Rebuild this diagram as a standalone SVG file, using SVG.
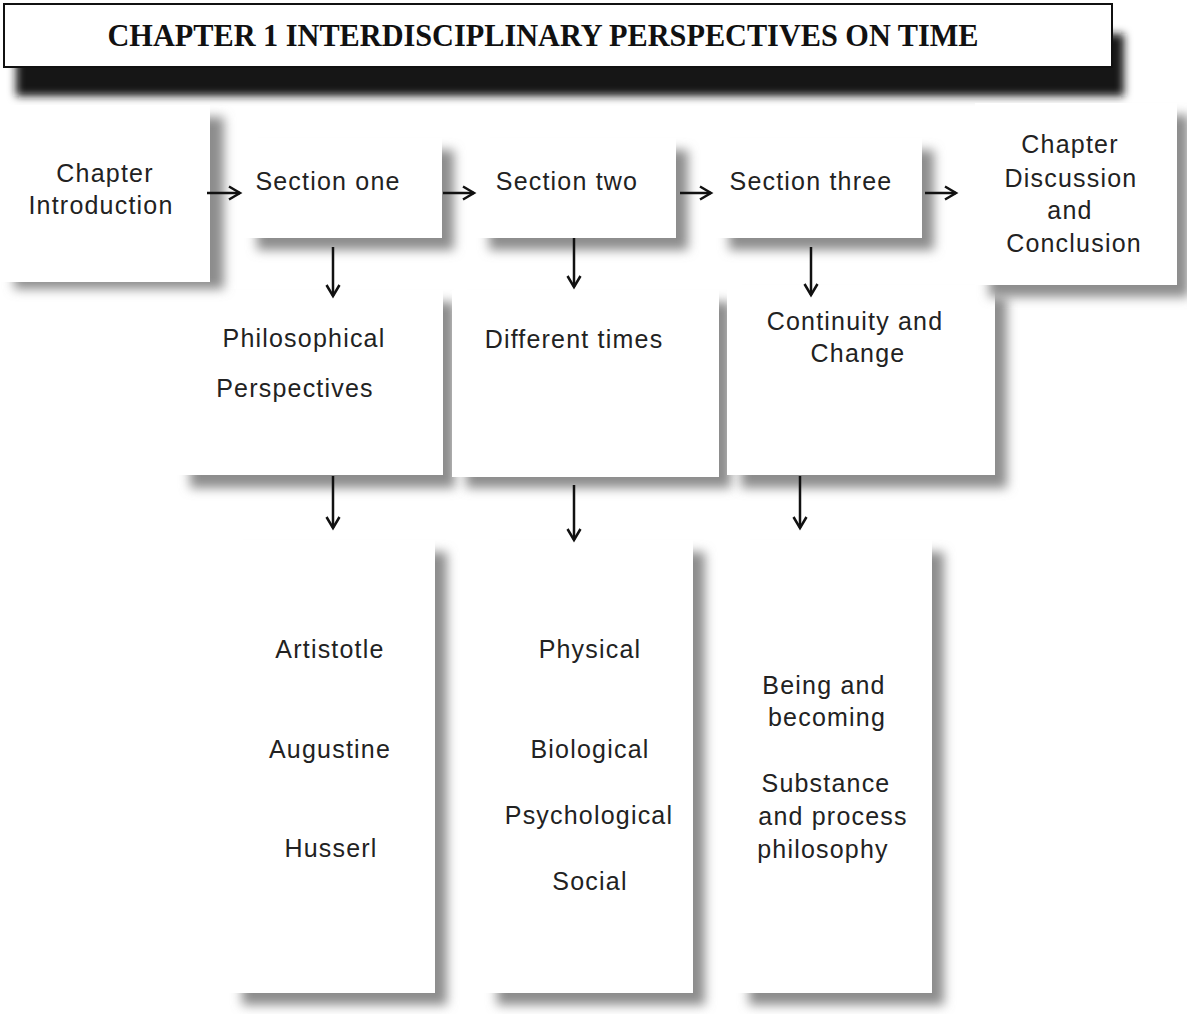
<svg xmlns="http://www.w3.org/2000/svg" width="1187" height="1014" viewBox="0 0 1187 1014">
  <style>
    .box { fill: #ffffff; }
    .shade { fill: #8c8c8c; filter: url(#soft); }
    .lbl { font-family: "Liberation Sans", Arial, sans-serif; font-size: 25px; letter-spacing: 1.2px; fill: #222222; text-anchor: middle; }
    .title { font-family: "Liberation Serif", "Times New Roman", serif; font-size: 32px; font-weight: bold; fill: #111111; text-anchor: middle; }
    .arrow { stroke: #111111; stroke-width: 2.5; fill: none; marker-end: url(#head); }
  </style>
  <defs>
    <filter id="soft" x="-20%" y="-20%" width="140%" height="140%">
      <feGaussianBlur stdDeviation="5.5"/>
    </filter>
    <filter id="softTitle" x="-5%" y="-50%" width="110%" height="200%">
      <feGaussianBlur stdDeviation="4.5"/>
    </filter>
    <marker id="head" markerUnits="userSpaceOnUse" markerWidth="16" markerHeight="16" viewBox="0 0 16 16" refX="13" refY="8" orient="auto">
      <path d="M2,1.5 L13,8 L2,14.5" stroke="#111111" stroke-width="2.5" fill="none"/>
    </marker>
  </defs>

  <rect width="1187" height="1014" fill="#ffffff"/>

  <!-- Title banner -->
  <g id="title">
    <rect x="16" y="34" width="1108" height="62" fill="#151515" filter="url(#softTitle)"/>
    <rect x="4" y="4" width="1108" height="63" fill="#ffffff" stroke="#111111" stroke-width="2"/>
    <text class="title" x="543" y="46" textLength="871" lengthAdjust="spacingAndGlyphs">CHAPTER 1 INTERDISCIPLINARY PERSPECTIVES ON TIME</text>
  </g>

  <!-- Bottom row -->
  <g id="aristotle-list">
    <rect class="shade" x="242" y="552" width="205" height="453"/>
    <rect class="box" x="228" y="540" width="207" height="453"/>
    <text class="lbl" x="330" y="658">Artistotle</text>
    <text class="lbl" x="330" y="758">Augustine</text>
    <text class="lbl" x="331" y="857">Husserl</text>
  </g>
  <g id="physical-list">
    <rect class="shade" x="497" y="552" width="208" height="453"/>
    <rect class="box" x="483" y="540" width="210" height="453"/>
    <text class="lbl" x="590" y="658">Physical</text>
    <text class="lbl" x="590" y="758">Biological</text>
    <text class="lbl" x="589" y="824">Psychological</text>
    <text class="lbl" x="590" y="890">Social</text>
  </g>
  <g id="being-list">
    <rect class="shade" x="749" y="552" width="195" height="453"/>
    <rect class="box" x="735" y="540" width="197" height="453"/>
    <text class="lbl" x="824" y="694">Being and</text>
    <text class="lbl" x="827" y="726">becoming</text>
    <text class="lbl" x="826" y="792">Substance</text>
    <text class="lbl" x="833" y="825">and process</text>
    <text class="lbl" x="823" y="858">philosophy</text>
  </g>

  <!-- Middle row -->
  <g id="philosophical">
    <rect class="shade" x="190" y="302" width="265" height="186"/>
    <rect class="box" x="176" y="290" width="267" height="185"/>
    <text class="lbl" x="304" y="347">Philosophical</text>
    <text class="lbl" x="295" y="397">Perspectives</text>
  </g>
  <g id="different-times">
    <rect class="shade" x="466" y="302" width="265" height="186"/>
    <rect class="box" x="452" y="290" width="267" height="187"/>
    <text class="lbl" x="574" y="348">Different times</text>
  </g>
  <g id="continuity">
    <rect class="shade" x="741" y="297" width="266" height="191"/>
    <rect class="box" x="727" y="285" width="268" height="190"/>
    <text class="lbl" x="855" y="330">Continuity and</text>
    <text class="lbl" x="858" y="362">Change</text>
  </g>

  <!-- Top row -->
  <g id="intro">
    <rect class="shade" x="14" y="117" width="210" height="172"/>
    <rect class="box" x="0" y="105" width="210" height="177"/>
    <text class="lbl" x="105" y="182">Chapter</text>
    <text class="lbl" x="101" y="214">Introduction</text>
  </g>
  <g id="section-one">
    <rect class="shade" x="257" y="150" width="197" height="100"/>
    <rect class="box" x="243" y="138" width="199" height="100"/>
    <text class="lbl" x="328" y="190">Section one</text>
  </g>
  <g id="section-two">
    <rect class="shade" x="489" y="150" width="199" height="100"/>
    <rect class="box" x="475" y="138" width="201" height="100"/>
    <text class="lbl" x="567" y="190">Section two</text>
  </g>
  <g id="section-three">
    <rect class="shade" x="729" y="150" width="205" height="100"/>
    <rect class="box" x="715" y="138" width="207" height="100"/>
    <text class="lbl" x="811" y="190">Section three</text>
  </g>
  <g id="discussion">
    <rect class="shade" x="989" y="115" width="200" height="182"/>
    <rect class="box" x="975" y="103" width="202" height="182"/>
    <text class="lbl" x="1070" y="153">Chapter</text>
    <text class="lbl" x="1071" y="187">Discussion</text>
    <text class="lbl" x="1070" y="219">and</text>
    <text class="lbl" x="1074" y="252">Conclusion</text>
  </g>

  <!-- Connectors -->
  <g id="connectors">
    <line class="arrow" x1="207" y1="193" x2="240" y2="193"/>
    <line class="arrow" x1="443" y1="193" x2="474" y2="193"/>
    <line class="arrow" x1="680" y1="193" x2="711" y2="193"/>
    <line class="arrow" x1="925" y1="193" x2="956" y2="193"/>
    <line class="arrow" x1="333" y1="247" x2="333" y2="296"/>
    <line class="arrow" x1="574" y1="238" x2="574" y2="287"/>
    <line class="arrow" x1="811" y1="247" x2="811" y2="295"/>
    <line class="arrow" x1="333" y1="476" x2="333" y2="528"/>
    <line class="arrow" x1="574" y1="485" x2="574" y2="540"/>
    <line class="arrow" x1="800" y1="476" x2="800" y2="528"/>
  </g>
</svg>
